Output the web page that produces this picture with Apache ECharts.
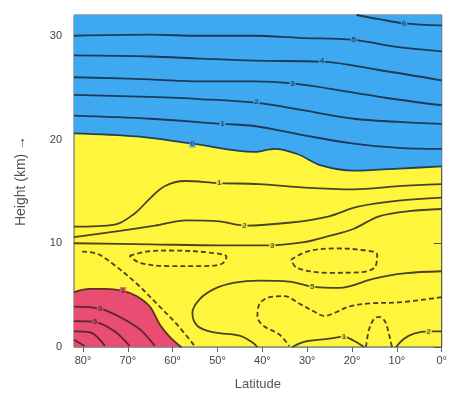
<!DOCTYPE html>
<html>
<head>
<meta charset="utf-8">
<script src="https://cdn.jsdelivr.net/npm/echarts@6/dist/echarts.min.js"></script>
<style>
  html, body { margin: 0; background: #fff; }
  #chart { width: 450px; height: 396px; }
</style>
</head>
<body>
<div id="chart"></div>
<script>
// axis ticks
const latTicks = [80, 70, 60, 50, 40, 30, 20, 10, 0];
const heightTicks = [0, 10, 20, 30];

// points are [latitude, height km]
// edge of the blue (upper) region, also the "0" contour
const blueEdge = [[82, 20.6], [68, 20.3], [55.6, 19.6], [41.8, 18.8], [37.3, 19.1], [32.2, 18.6], [26.9, 17.5], [19.6, 17.0], [9.6, 17.2], [0, 17.4]];
// edge of the red (lower left) region
const redEdge = [[82, 5.3], [78.4, 5.6], [75.1, 5.6], [71.1, 5.4], [68, 4.9], [65.1, 3.9], [62.9, 2.2], [60.7, 1.0], [58.4, 0.1], [58, 0]];

// solid contours in the blue region
const blueLines = [
  [[19, 32], [14, 31.6], [8.4, 31.2], [0, 31.0]],
  [[82, 30.0], [65, 30.1], [54, 30.0], [41.8, 30.0], [31.8, 29.8], [19.6, 29.6], [9.6, 28.9], [0, 28.5]],
  [[82, 28.1], [65, 28.0], [54, 27.8], [41.8, 27.6], [26.7, 27.5], [14, 26.7], [0, 25.7]],
  [[82, 26.0], [65, 25.8], [54, 25.6], [41.8, 25.6], [33.3, 25.4], [20.7, 24.6], [12.2, 24.0], [0, 23.3]],
  [[82, 24.3], [65, 24.1], [54, 23.9], [40.7, 23.5], [30.7, 22.8], [19.6, 22.0], [9.6, 21.7], [0, 21.5]],
  [[82, 22.3], [65, 22.0], [48.9, 21.5], [41.8, 21.3], [30.7, 20.4], [19.6, 19.6], [9.6, 19.2], [0, 19.1]]
];

// solid contours in the yellow region
const yellowLines = [
  [[82, 11.6], [72.9, 11.8], [68.4, 12.9], [65.1, 14.3], [61.8, 15.5], [57.3, 16.0], [49.6, 15.8], [40.7, 15.7], [31.8, 15.4], [19.6, 15.2], [9.6, 15.5], [0, 15.7]],
  [[82, 10.6], [71.8, 11.2], [64, 11.7], [56.9, 12.2], [49.6, 12.1], [44, 11.7], [33.6, 12.0], [25.1, 12.6], [18.9, 13.5], [9.6, 14.1], [0, 14.4]],
  [[82, 10.0], [65, 9.9], [49.6, 9.8], [38.4, 9.8], [30.7, 10.1], [25.1, 10.7], [19.6, 11.4], [14, 12.6], [7.3, 13.1], [0, 13.3]],
  [[0, 7.3], [8.4, 7.1], [15.1, 6.6], [22.9, 5.7], [28.4, 5.8], [34, 6.3], [40.7, 6.4], [46.2, 6.2], [50.7, 5.6], [54, 4.6], [55.6, 3.3], [54.4, 2.0], [50.7, 1.4], [45.1, 1.1], [42.4, 0.5], [41.1, 0]],
  [[33.3, 0], [30.7, 0.5], [25.1, 0.8], [21.8, 1.0], [19.6, 0.6], [17.3, 0]],
  [[10.2, 0], [8.4, 0.8], [6.2, 1.3], [2.9, 1.5], [0, 1.5]]
];

// dashed contours
const dashedLines = [
  [[69.6, 8.8], [65.8, 9.2], [60.7, 9.3], [51.8, 9.1], [48, 8.7], [49.1, 8.0], [54, 7.8], [60.7, 7.8], [67.3, 8.1], [69.6, 8.8]],
  [[33.6, 8.4], [30, 9.2], [24, 9.5], [18.9, 9.4], [14.4, 8.9], [14.9, 7.7], [18.4, 7.2], [25.1, 7.15], [32.2, 7.6], [33.6, 8.4]],
  [[80.2, 9.2], [76.9, 9.0], [73.3, 8.0], [68, 6.1], [63.6, 4.2], [59.1, 2.2], [55.1, 0.1]],
  [[0, 4.8], [9.6, 4.3], [16.2, 4.2], [20.7, 3.9], [23.3, 3.4], [26.2, 3.0], [28.4, 3.4], [31.8, 4.2], [35.1, 4.9], [38.4, 4.8], [40.7, 4.1], [41.1, 2.9], [39.6, 2.0], [36.2, 1.2], [34, 0.1]],
  [[16.9, 0], [16.2, 1.7], [15.1, 2.7], [14, 2.9], [12.7, 2.5], [11.8, 1.3], [11.1, 0]]
];

// contours inside the red region
const redLines = [
  [[82, 3.9], [76.2, 3.7], [71.8, 2.9], [67.3, 1.7], [64, 0.1]],
  [[82, 2.5], [77.3, 2.4], [72.9, 1.5], [69.6, 0.1]],
  [[82, 1.5], [78.4, 1.4], [75.1, 0.1]],
  [[82, 0.7], [79.6, 0.1]]
];

// contour labels [latitude, height, text]
const blueLabels = [[8.4, 31.2, '6'], [19.6, 29.6, '5'], [26.7, 27.6, '4'], [33.3, 25.4, '3'], [41.3, 23.6, '2'], [48.9, 21.5, '1'], [55.6, 19.6, '0']];
const yellowLabels = [[49.6, 15.8, '1'], [44, 11.7, '2'], [37.8, 9.8, '3'], [28.9, 5.8, '5'], [21.8, 1.0, '1'], [2.9, 1.5, '2']];
const redLabels = [[71.1, 5.4, '1'], [76.2, 3.7, '3'], [77.3, 2.4, '5']];

const BLUE = '#3ea8f0';
const YELLOW = '#fff53c';
const RED = '#ea4d72';

function contour(data, color, dashed) {
  return {
    type: 'line',
    data: data,
    smooth: 0.35,
    symbol: 'none',
    silent: true,
    z: 3,
    lineStyle: { color: color, width: 1.8, type: dashed ? [5, 3] : 'solid' }
  };
}

function labels(data, bg) {
  return {
    type: 'scatter',
    data: data,
    symbolSize: 1,
    silent: true,
    z: 5,
    itemStyle: { color: 'transparent' },
    label: {
      show: true,
      position: 'inside',
      formatter: (p) => p.data[2],
      fontSize: 8,
      fontWeight: 'bold',
      color: '#333',
      backgroundColor: bg,
      padding: [0, 1]
    }
  };
}

const series = [
  {
    type: 'line', data: blueEdge, smooth: 0.35, symbol: 'none', silent: true, z: 2,
    lineStyle: { color: '#23405a', width: 1.8 },
    areaStyle: { color: BLUE, opacity: 1, origin: 'end' }
  },
  {
    type: 'line', data: redEdge, smooth: 0.35, symbol: 'none', silent: true, z: 2,
    lineStyle: { color: '#5a3020', width: 1.8 },
    areaStyle: { color: RED, opacity: 1, origin: 'start' }
  }
];
blueLines.forEach(d => series.push(contour(d, '#1f3a58', false)));
yellowLines.forEach(d => series.push(contour(d, '#4a4322', false)));
dashedLines.forEach(d => series.push(contour(d, '#4a4322', true)));
redLines.forEach(d => series.push(contour(d, '#5a2436', false)));
series.push(labels(blueLabels, BLUE), labels(yellowLabels, YELLOW), labels(redLabels, RED));

const chart = echarts.init(document.getElementById('chart'));
chart.setOption({
  animation: false,
  textStyle: { fontFamily: 'Liberation Sans, DejaVu Sans, sans-serif' },
  grid: {
    left: 74, right: 7, top: 15, bottom: 48,
    show: true, backgroundColor: YELLOW, borderColor: '#5a5a5a', borderWidth: 1
  },
  xAxis: {
    type: 'value', min: 0, max: 82, interval: 10, inverse: true,
    name: 'Latitude', nameLocation: 'middle', nameGap: 31,
    nameTextStyle: { fontSize: 13, color: '#555' },
    splitLine: { show: false },
    axisLine: { show: true, lineStyle: { color: '#7f9cab', width: 1 } },
    axisTick: { show: true, length: 5, customValues: latTicks, lineStyle: { color: '#666' } },
    axisLabel: { customValues: latTicks, formatter: (v) => v + '°', fontSize: 11, color: '#444', margin: 8 }
  },
  yAxis: {
    type: 'value', min: 0, max: 32, interval: 10,
    name: 'Height (km) \u2192', nameLocation: 'middle', nameRotate: 90, nameGap: 46,
    nameTextStyle: { fontSize: 14, color: '#555' },
    splitLine: { show: false },
    axisLine: { show: true, lineStyle: { color: '#5a5a5a', width: 1 } },
    axisTick: { show: true, length: 8, customValues: heightTicks, lineStyle: { color: '#555' } },
    axisLabel: { customValues: heightTicks, fontSize: 11, color: '#444', margin: 12 }
  },
  series: series
});
</script>
</body>
</html>
